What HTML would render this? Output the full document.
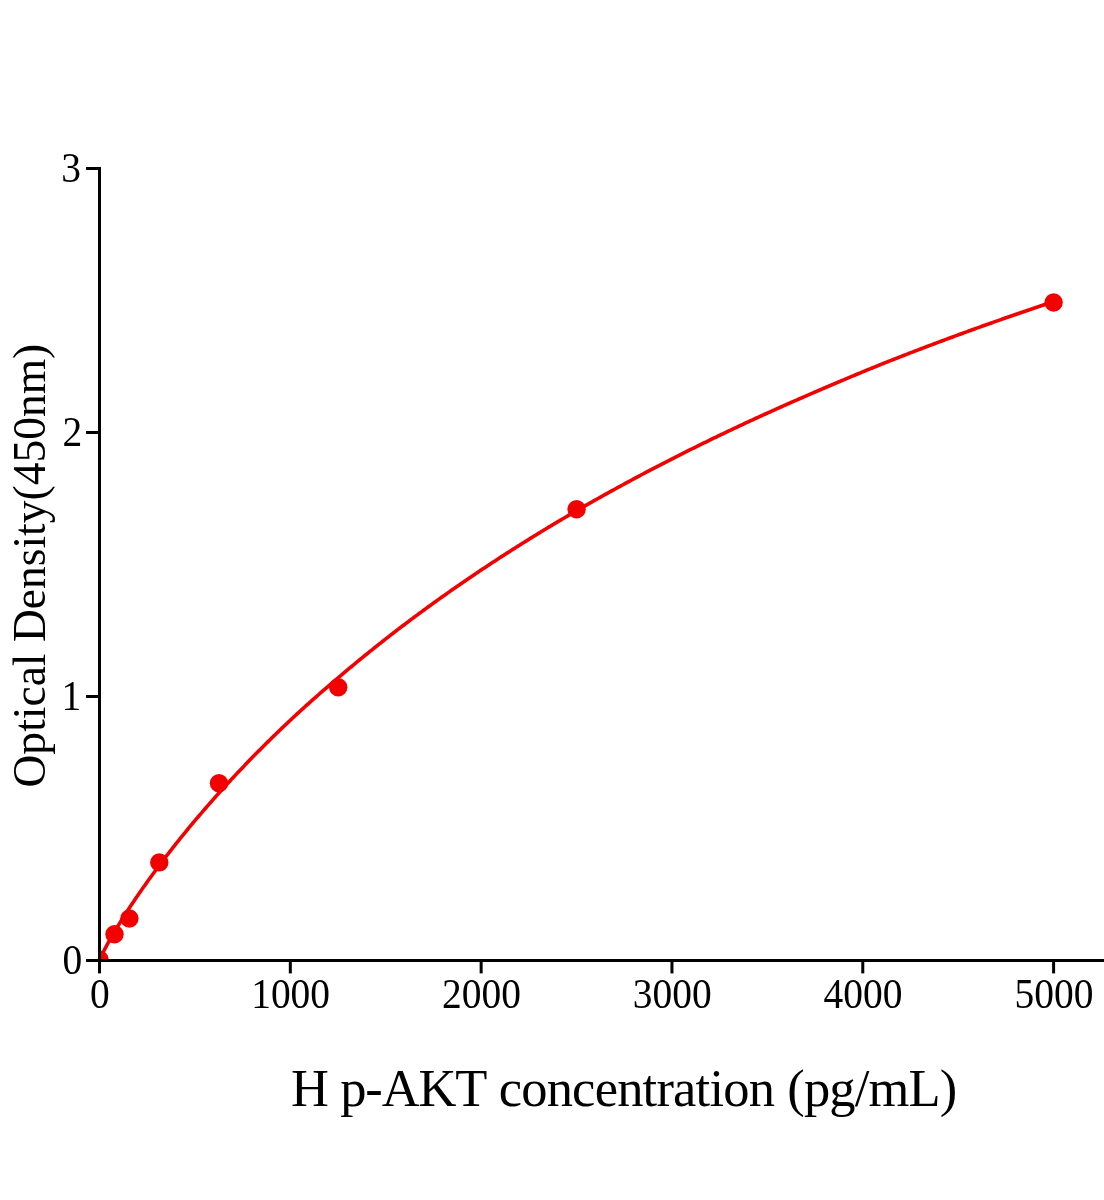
<!DOCTYPE html>
<html><head><meta charset="utf-8"><title>H p-AKT ELISA standard curve</title>
<style>
html,body{margin:0;padding:0;background:#fff;}
body{width:1104px;height:1200px;overflow:hidden;font-family:"Liberation Serif",serif;}
svg{display:block;will-change:transform;}
text{font-family:"Liberation Serif",serif;fill:#000;}
</style></head>
<body>
<svg width="1104" height="1200" viewBox="0 0 1104 1200">
<rect width="1104" height="1200" fill="#fff"/>
<defs><clipPath id="plot"><rect x="99.5" y="0" width="1010" height="960.5"/></clipPath></defs>
<g clip-path="url(#plot)">
<g fill="#f30000">
<circle cx="99.5" cy="959.5" r="9.2"/>
<circle cx="114.5" cy="934.3" r="9.2"/>
<circle cx="129.4" cy="918.5" r="9.2"/>
<circle cx="159.3" cy="862.4" r="9.2"/>
<circle cx="219.0" cy="783.2" r="9.2"/>
<circle cx="338.2" cy="687.2" r="9.2"/>
<circle cx="576.6" cy="509.3" r="9.2"/>
<circle cx="1053.6" cy="302.5" r="9.2"/>
</g>
<path d="M99.50,960.56 L99.88,959.48 L100.36,958.31 L100.84,957.22 L101.32,956.16 L101.80,955.14 L102.28,954.13 L102.76,953.15 L103.24,952.18 L103.72,951.23 L104.20,950.28 L104.68,949.35 L105.16,948.43 L105.64,947.52 L106.12,946.61 L106.59,945.72 L107.07,944.83 L107.55,943.95 L108.03,943.07 L108.51,942.20 L108.99,941.34 L109.47,940.48 L109.95,939.62 L110.43,938.78 L110.91,937.93 L111.39,937.09 L111.87,936.26 L112.35,935.43 L112.83,934.60 L113.31,933.78 L113.79,932.96 L114.27,932.14 L114.75,931.33 L115.23,930.53 L115.71,929.72 L116.18,928.92 L116.66,928.12 L117.14,927.33 L117.62,926.54 L118.10,925.75 L118.58,924.96 L120.05,922.58 L121.51,920.23 L122.97,917.90 L124.44,915.59 L125.90,913.30 L127.36,911.04 L128.82,908.79 L130.29,906.56 L131.75,904.35 L133.21,902.16 L134.68,899.98 L136.14,897.82 L137.60,895.67 L139.07,893.54 L140.53,891.43 L141.99,889.32 L143.46,887.24 L144.92,885.16 L146.38,883.10 L147.85,881.05 L149.31,879.02 L150.77,876.99 L152.24,874.98 L153.70,872.98 L155.16,870.99 L156.63,869.01 L158.09,867.05 L159.55,865.09 L161.02,863.15 L162.48,861.21 L163.94,859.29 L165.41,857.37 L166.87,855.47 L168.33,853.57 L169.80,851.68 L171.26,849.81 L172.72,847.94 L174.19,846.08 L175.65,844.23 L177.11,842.39 L178.58,840.56 L180.04,838.74 L181.50,836.92 L182.97,835.12 L184.43,833.32 L185.89,831.53 L187.35,829.75 L188.82,827.97 L190.28,826.20 L191.74,824.45 L193.21,822.69 L194.67,820.95 L196.13,819.21 L197.60,817.49 L199.06,815.76 L200.52,814.05 L201.99,812.34 L203.45,810.64 L204.91,808.95 L206.38,807.26 L207.84,805.58 L209.30,803.91 L210.77,802.24 L212.23,800.58 L213.69,798.93 L215.16,797.28 L216.62,795.64 L218.08,794.01 L219.55,792.38 L221.01,790.76 L222.47,789.14 L223.94,787.54 L225.40,785.93 L226.86,784.34 L228.33,782.74 L229.79,781.16 L231.25,779.58 L232.72,778.01 L234.18,776.44 L235.64,774.88 L237.11,773.32 L238.57,771.77 L240.03,770.22 L241.50,768.68 L242.96,767.15 L244.42,765.62 L245.88,764.10 L247.35,762.58 L248.81,761.06 L250.27,759.56 L251.74,758.05 L253.20,756.56 L254.66,755.06 L256.13,753.58 L257.59,752.10 L259.05,750.62 L260.52,749.15 L261.98,747.68 L263.44,746.22 L264.91,744.76 L266.37,743.31 L267.83,741.86 L269.30,740.42 L270.76,738.98 L272.22,737.55 L273.69,736.12 L275.15,734.70 L276.61,733.28 L278.08,731.87 L279.54,730.46 L281.00,729.06 L282.47,727.66 L283.93,726.27 L285.39,724.88 L286.86,723.49 L288.32,722.11 L289.78,720.74 L291.25,719.37 L292.71,718.00 L294.17,716.64 L295.64,715.29 L297.10,713.94 L298.56,712.59 L300.03,711.25 L301.49,709.92 L302.95,708.59 L304.41,707.26 L305.88,705.94 L307.34,704.62 L308.80,703.31 L310.27,702.00 L311.73,700.69 L313.19,699.39 L314.66,698.10 L316.12,696.80 L317.58,695.52 L319.05,694.23 L320.51,692.95 L321.97,691.67 L323.44,690.40 L324.90,689.13 L326.36,687.86 L327.83,686.59 L329.29,685.33 L330.75,684.07 L332.22,682.81 L333.68,681.56 L335.14,680.31 L336.61,679.06 L338.07,677.82 L339.53,676.58 L341.00,675.34 L342.46,674.10 L343.92,672.87 L345.39,671.64 L346.85,670.41 L348.31,669.19 L349.78,667.97 L351.24,666.75 L352.70,665.54 L354.17,664.33 L355.63,663.12 L357.09,661.91 L358.56,660.71 L360.02,659.51 L361.48,658.31 L362.95,657.12 L364.41,655.93 L365.87,654.74 L367.33,653.56 L368.80,652.38 L370.26,651.20 L371.72,650.03 L373.19,648.86 L374.65,647.69 L376.11,646.52 L377.58,645.36 L379.04,644.20 L380.50,643.04 L381.97,641.89 L383.43,640.74 L384.89,639.59 L386.36,638.45 L387.82,637.31 L389.28,636.17 L390.75,635.03 L392.21,633.90 L393.67,632.77 L395.14,631.64 L396.60,630.52 L398.06,629.40 L399.53,628.28 L400.99,627.16 L402.45,626.05 L403.92,624.94 L405.38,623.83 L406.84,622.73 L408.31,621.63 L409.77,620.53 L411.23,619.43 L412.70,618.34 L414.16,617.25 L415.62,616.16 L417.09,615.08 L418.55,613.99 L420.01,612.91 L421.48,611.84 L422.94,610.76 L424.40,609.69 L425.86,608.62 L427.33,607.55 L428.79,606.49 L430.25,605.43 L431.72,604.37 L433.18,603.31 L434.64,602.26 L436.11,601.21 L437.57,600.16 L439.03,599.11 L440.50,598.07 L441.96,597.03 L443.42,595.99 L444.89,594.96 L446.35,593.92 L447.81,592.89 L449.28,591.86 L450.74,590.84 L452.20,589.81 L453.67,588.79 L455.13,587.77 L456.59,586.76 L458.06,585.74 L459.52,584.73 L460.98,583.72 L462.45,582.71 L463.91,581.71 L465.37,580.71 L466.84,579.71 L468.30,578.71 L469.76,577.71 L471.23,576.72 L472.69,575.73 L474.15,574.74 L475.62,573.76 L477.08,572.77 L478.54,571.79 L480.01,570.81 L481.47,569.83 L482.93,568.86 L484.39,567.89 L485.86,566.92 L487.32,565.95 L488.78,564.98 L490.25,564.02 L491.71,563.06 L493.17,562.10 L494.64,561.14 L496.10,560.18 L497.56,559.23 L499.03,558.28 L500.49,557.33 L501.95,556.38 L503.42,555.44 L504.88,554.50 L506.34,553.56 L507.81,552.62 L509.27,551.68 L510.73,550.75 L512.20,549.82 L513.66,548.89 L515.12,547.96 L516.59,547.03 L518.05,546.11 L519.51,545.19 L520.98,544.27 L522.44,543.35 L523.90,542.43 L525.37,541.52 L526.83,540.61 L528.29,539.70 L529.76,538.79 L531.22,537.88 L532.68,536.98 L534.15,536.08 L535.61,535.18 L537.07,534.28 L538.54,533.38 L540.00,532.49 L541.46,531.59 L542.93,530.70 L544.39,529.81 L545.85,528.93 L547.31,528.04 L548.78,527.16 L550.24,526.28 L551.70,525.40 L553.17,524.52 L554.63,523.65 L556.09,522.77 L557.56,521.90 L559.02,521.03 L560.48,520.16 L561.95,519.30 L563.41,518.43 L564.87,517.57 L566.34,516.71 L567.80,515.85 L569.26,514.99 L570.73,514.13 L572.19,513.28 L573.65,512.43 L575.12,511.58 L576.58,510.73 L578.04,509.88 L579.51,509.04 L580.97,508.19 L582.43,507.35 L583.90,506.51 L585.36,505.67 L586.82,504.84 L588.29,504.00 L589.75,503.17 L591.21,502.34 L592.68,501.51 L594.14,500.68 L595.60,499.85 L597.07,499.03 L598.53,498.21 L599.99,497.38 L601.46,496.56 L602.92,495.75 L604.38,494.93 L605.84,494.11 L607.31,493.30 L608.77,492.49 L610.23,491.68 L611.70,490.87 L613.16,490.06 L614.62,489.26 L616.09,488.46 L617.55,487.65 L619.01,486.85 L620.48,486.05 L621.94,485.26 L623.40,484.46 L624.87,483.67 L626.33,482.87 L627.79,482.08 L629.26,481.29 L630.72,480.51 L632.18,479.72 L633.65,478.93 L635.11,478.15 L636.57,477.37 L638.04,476.59 L639.50,475.81 L640.96,475.03 L642.43,474.26 L643.89,473.48 L645.35,472.71 L646.82,471.94 L648.28,471.17 L649.74,470.40 L651.21,469.63 L652.67,468.87 L654.13,468.10 L655.60,467.34 L657.06,466.58 L658.52,465.82 L659.99,465.06 L661.45,464.31 L662.91,463.55 L664.37,462.80 L665.84,462.05 L667.30,461.29 L668.76,460.55 L670.23,459.80 L671.69,459.05 L673.15,458.31 L674.62,457.56 L676.08,456.82 L677.54,456.08 L679.01,455.34 L680.47,454.60 L681.93,453.86 L683.40,453.13 L684.86,452.39 L686.32,451.66 L687.79,450.93 L689.25,450.20 L690.71,449.47 L692.18,448.74 L693.64,448.02 L695.10,447.29 L696.57,446.57 L698.03,445.85 L699.49,445.13 L700.96,444.41 L702.42,443.69 L703.88,442.97 L705.35,442.26 L706.81,441.54 L708.27,440.83 L709.74,440.12 L711.20,439.41 L712.66,438.70 L714.13,437.99 L715.59,437.28 L717.05,436.58 L718.52,435.88 L719.98,435.17 L721.44,434.47 L722.91,433.77 L724.37,433.07 L725.83,432.38 L727.29,431.68 L728.76,430.98 L730.22,430.29 L731.68,429.60 L733.15,428.91 L734.61,428.22 L736.07,427.53 L737.54,426.84 L739.00,426.15 L740.46,425.47 L741.93,424.78 L743.39,424.10 L744.85,423.42 L746.32,422.74 L747.78,422.06 L749.24,421.38 L750.71,420.71 L752.17,420.03 L753.63,419.36 L755.10,418.68 L756.56,418.01 L758.02,417.34 L759.49,416.67 L760.95,416.00 L762.41,415.34 L763.88,414.67 L765.34,414.00 L766.80,413.34 L768.27,412.68 L769.73,412.02 L771.19,411.36 L772.66,410.70 L774.12,410.04 L775.58,409.38 L777.05,408.72 L778.51,408.07 L779.97,407.42 L781.44,406.76 L782.90,406.11 L784.36,405.46 L785.82,404.81 L787.29,404.16 L788.75,403.51 L790.21,402.87 L791.68,402.22 L793.14,401.58 L794.60,400.94 L796.07,400.29 L797.53,399.65 L798.99,399.01 L800.46,398.37 L801.92,397.73 L803.38,397.09 L804.85,396.46 L806.31,395.82 L807.77,395.19 L809.24,394.55 L810.70,393.92 L812.16,393.29 L813.63,392.66 L815.09,392.02 L816.55,391.39 L818.02,390.76 L819.48,390.14 L820.94,389.51 L822.41,388.88 L823.87,388.25 L825.33,387.63 L826.80,387.00 L828.26,386.38 L829.72,385.75 L831.19,385.13 L832.65,384.50 L834.11,383.88 L835.58,383.26 L837.04,382.64 L838.50,382.02 L839.97,381.39 L841.43,380.77 L842.89,380.16 L844.35,379.54 L845.82,378.92 L847.28,378.30 L848.74,377.69 L850.21,377.07 L851.67,376.46 L853.13,375.85 L854.60,375.23 L856.06,374.62 L857.52,374.01 L858.99,373.41 L860.45,372.80 L861.91,372.19 L863.38,371.59 L864.84,370.99 L866.30,370.38 L867.77,369.78 L869.23,369.19 L870.69,368.59 L872.16,367.99 L873.62,367.40 L875.08,366.80 L876.55,366.21 L878.01,365.62 L879.47,365.03 L880.94,364.45 L882.40,363.86 L883.86,363.27 L885.33,362.69 L886.79,362.11 L888.25,361.53 L889.72,360.95 L891.18,360.37 L892.64,359.79 L894.11,359.21 L895.57,358.64 L897.03,358.06 L898.50,357.49 L899.96,356.92 L901.42,356.35 L902.89,355.78 L904.35,355.21 L905.81,354.64 L907.27,354.07 L908.74,353.50 L910.20,352.94 L911.66,352.38 L913.13,351.81 L914.59,351.25 L916.05,350.69 L917.52,350.13 L918.98,349.57 L920.44,349.01 L921.91,348.45 L923.37,347.89 L924.83,347.34 L926.30,346.78 L927.76,346.23 L929.22,345.68 L930.69,345.12 L932.15,344.57 L933.61,344.02 L935.08,343.47 L936.54,342.92 L938.00,342.37 L939.47,341.83 L940.93,341.28 L942.39,340.74 L943.86,340.19 L945.32,339.65 L946.78,339.10 L948.25,338.56 L949.71,338.02 L951.17,337.48 L952.64,336.94 L954.10,336.40 L955.56,335.86 L957.03,335.33 L958.49,334.79 L959.95,334.26 L961.42,333.72 L962.88,333.19 L964.34,332.65 L965.80,332.12 L967.27,331.59 L968.73,331.06 L970.19,330.53 L971.66,330.00 L973.12,329.47 L974.58,328.94 L976.05,328.42 L977.51,327.89 L978.97,327.37 L980.44,326.84 L981.90,326.32 L983.36,325.80 L984.83,325.27 L986.29,324.75 L987.75,324.23 L989.22,323.71 L990.68,323.19 L992.14,322.68 L993.61,322.16 L995.07,321.64 L996.53,321.13 L998.00,320.61 L999.46,320.10 L1000.92,319.58 L1002.39,319.07 L1003.85,318.56 L1005.31,318.05 L1006.78,317.54 L1008.24,317.03 L1009.70,316.52 L1011.17,316.01 L1012.63,315.50 L1014.09,315.00 L1015.56,314.49 L1017.02,313.99 L1018.48,313.48 L1019.95,312.98 L1021.41,312.48 L1022.87,311.97 L1024.33,311.47 L1025.80,310.97 L1027.26,310.47 L1028.72,309.97 L1030.19,309.47 L1031.65,308.98 L1033.11,308.48 L1034.58,307.98 L1036.04,307.49 L1037.50,306.99 L1038.97,306.50 L1040.43,306.00 L1041.89,305.51 L1043.36,305.02 L1044.82,304.53 L1046.28,304.04 L1047.75,303.55 L1049.21,303.06 L1050.67,302.57 L1052.14,302.08 L1053.60,301.59" fill="none" stroke="#f30000" stroke-width="3.6" stroke-linejoin="round" stroke-linecap="butt"/>
</g>
<g fill="#000">
<rect x="98" y="167" width="3" height="795"/>
<rect x="86" y="959" width="1018" height="3"/>
<rect x="86" y="167.0" width="13" height="3"/><rect x="86" y="431.0" width="13" height="3"/><rect x="86" y="695.0" width="13" height="3"/><rect x="86" y="959.0" width="13" height="3"/>
<rect x="98.00" y="961" width="3" height="12.4"/><rect x="288.82" y="961" width="3" height="12.4"/><rect x="479.64" y="961" width="3" height="12.4"/><rect x="670.46" y="961" width="3" height="12.4"/><rect x="861.28" y="961" width="3" height="12.4"/><rect x="1052.10" y="961" width="3" height="12.4"/>
</g>
<g font-size="42px">
<text transform="translate(82.3,974.4) scale(0.94,1)" text-anchor="end">0</text><text transform="translate(81.3,710.1) scale(0.94,1)" text-anchor="end">1</text><text transform="translate(82.3,445.6) scale(0.94,1)" text-anchor="end">2</text><text transform="translate(81.0,181.9) scale(0.94,1)" text-anchor="end">3</text>
<text transform="translate(99.80,1007.7) scale(0.94,1)" text-anchor="middle">0</text><text transform="translate(290.62,1007.7) scale(0.94,1)" text-anchor="middle">1000</text><text transform="translate(481.44,1007.7) scale(0.94,1)" text-anchor="middle">2000</text><text transform="translate(672.26,1007.7) scale(0.94,1)" text-anchor="middle">3000</text><text transform="translate(863.08,1007.7) scale(0.94,1)" text-anchor="middle">4000</text><text transform="translate(1053.90,1007.7) scale(0.94,1)" text-anchor="middle">5000</text>
</g>
<g font-size="52.5px"><text x="291.0" y="1106.3" letter-spacing="0px">H</text><text x="340.2" y="1106.3" letter-spacing="-1.1px">p-AKT</text><text x="498.7" y="1106.3" letter-spacing="-0.79px">concentration</text><text x="787.3" y="1106.3" letter-spacing="-0.85px">(pg/mL)</text></g>
<text transform="translate(45.3,787.5) rotate(-90)" font-size="45.5px" letter-spacing="0.01px">Optical Density(450nm)</text>
</svg>
</body></html>
